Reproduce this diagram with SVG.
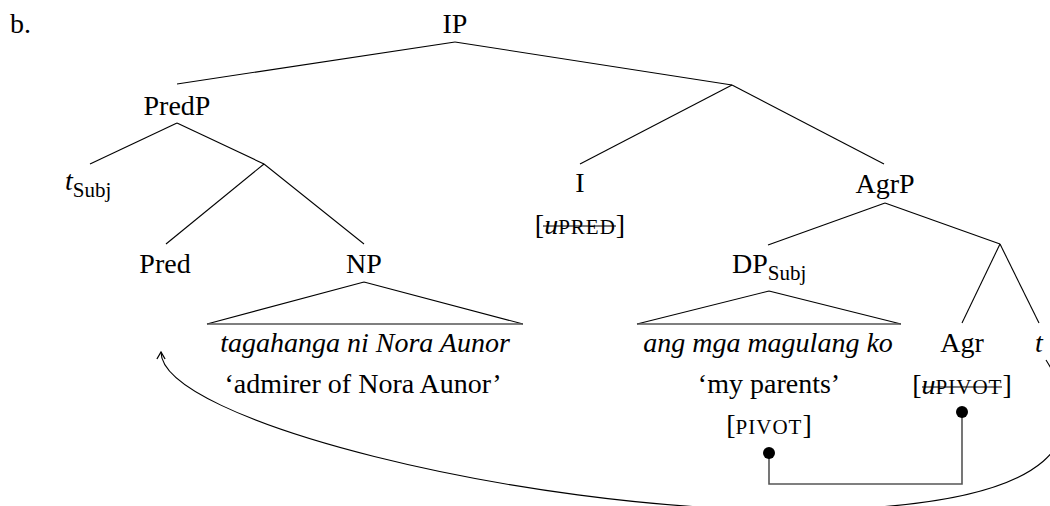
<svg xmlns="http://www.w3.org/2000/svg" width="1050" height="506" viewBox="0 0 1050 506">
<style>
text{font-family:"Liberation Serif","Times New Roman",serif;font-size:28px;fill:#000}
.n{text-anchor:middle}
.l{text-anchor:start}
.it{font-style:italic}
.sc{font-size:21px;letter-spacing:1px}
.sub{font-size:21px}
.e{stroke:#000;stroke-width:1.1;fill:none}
.tb{stroke:#555;stroke-width:1.6;fill:none}
.ag{stroke:#555;stroke-width:1.6;fill:none}
.st{stroke:#000;stroke-width:1.2}
</style>
<defs>
<marker id="ah" markerUnits="userSpaceOnUse" markerWidth="14" markerHeight="14" refX="0" refY="0" viewBox="-8 -6 10 12" orient="auto">
<path d="M-6,-3.5 L0,0 L-6,3.5" fill="none" stroke="#000" stroke-width="1.1"/>
</marker>
</defs>
<text x="10" y="33" font-size="25">b.</text>
<g id="connectors">
<line class="e" x1="455" y1="42" x2="177" y2="84"/>
<line class="e" x1="455" y1="42" x2="732" y2="85"/>
<line class="e" x1="177" y1="123" x2="90" y2="164"/>
<line class="e" x1="177" y1="123" x2="264" y2="164"/>
<line class="e" x1="264" y1="164" x2="166" y2="244"/>
<line class="e" x1="264" y1="164" x2="364" y2="244"/>
<line class="e" x1="732" y1="85" x2="580" y2="164"/>
<line class="e" x1="732" y1="85" x2="884" y2="164"/>
<line class="e" x1="885" y1="203" x2="768" y2="245"/>
<line class="e" x1="885" y1="203" x2="1000" y2="244"/>
<line class="e" x1="1000" y1="244" x2="962" y2="323"/>
<line class="e" x1="1000" y1="244" x2="1039" y2="323"/>
<path class="e" d="M364,282 L207,324 M364,282 L523,324"/>
<line class="tb" x1="207" y1="324" x2="523" y2="324"/>
<path class="e" d="M769,291 L637,324 M769,291 L901,324"/>
<line class="tb" x1="637" y1="324" x2="901" y2="324"/>
<path class="ag" d="M769,453 V484 H962 V412"/>
<circle cx="769" cy="453" r="6" fill="#000"/>
<circle cx="962" cy="412" r="6" fill="#000"/>
<path class="e" d="M1046,360 C1090,430 1080,510 790,510 C520,510 161,420 161,352" marker-end="url(#ah)"/>
</g>
<g id="IP"><text class="n" x="455" y="33">IP</text></g>
<g id="PredP"><text class="n" x="177" y="115">PredP</text></g>
<g id="tSubj"><text class="l" x="65" y="190"><tspan class="it">t</tspan><tspan class="sub" dy="7">Subj</tspan></text></g>
<g id="I"><text class="n" x="580" y="192">I</text>
<text class="n" x="580" y="234">[<tspan class="it">u</tspan><tspan class="sc">PRED</tspan>]</text>
<line class="st" x1="543" y1="226" x2="616" y2="226"/></g>
<g id="AgrP"><text class="n" x="885" y="193">AgrP</text></g>
<g id="Pred"><text class="n" x="165" y="273">Pred</text></g>
<g id="NP"><text class="n" x="364" y="273">NP</text>
<text class="n it" x="365" y="352">tagahanga ni Nora Aunor</text>
<text class="n" x="363" y="393">‘admirer of Nora Aunor’</text></g>
<g id="DPSubj"><text class="l" x="732" y="273">DP<tspan class="sub" dy="7">Subj</tspan></text>
<text class="n it" x="768" y="352">ang mga magulang ko</text>
<text class="n" x="769" y="393">‘my parents’</text>
<text class="n" x="769" y="434">[<tspan class="sc">PIVOT</tspan>]</text></g>
<g id="Agr"><text class="n" x="962" y="352">Agr</text>
<text class="n" x="962" y="394">[<tspan class="it">u</tspan><tspan class="sc">PIVOT</tspan>]</text>
<line class="st" x1="922" y1="387" x2="1002" y2="387"/></g>
<g id="t"><text class="n it" x="1039" y="352">t</text></g>
</svg>
